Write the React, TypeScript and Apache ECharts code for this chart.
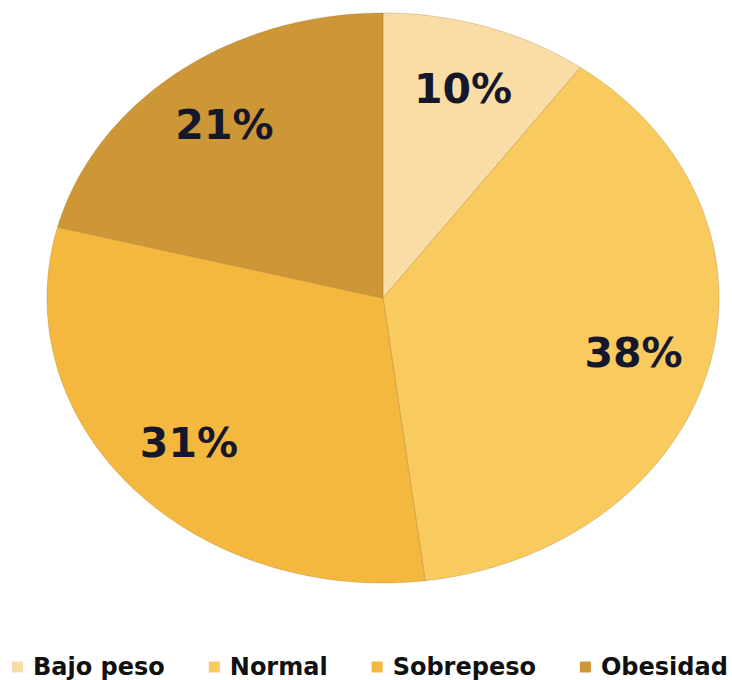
import React, { useEffect, useRef } from "react";
import * as echarts from "echarts";

const categories = ["Bajo peso", "Normal", "Sobrepeso", "Obesidad"];
const values = [10, 38, 31, 21];
const sliceColors = ["#FADDA6", "#F9CA5E", "#F5B83F", "#CD9636"];
const labelColor = "#15172B";

const CX = 383;
const CY = 298;
const RX = 336;
const RY = 285;
const LABEL_R = 0.77;

export default function App() {
  const ref = useRef<HTMLDivElement>(null);

  useEffect(() => {
    if (!ref.current) return;
    const chart = echarts.init(ref.current, undefined, { renderer: "svg" });
    const total = values.reduce((a, b) => a + b, 0);
    const starts: number[] = [];
    let acc = 0;
    values.forEach((v) => {
      starts.push(acc);
      acc += v;
    });

    const pt = (frac: number, r: number) => {
      const th = frac * Math.PI * 2;
      return [CX + RX * r * Math.sin(th), CY - RY * r * Math.cos(th)];
    };

    const series = categories.map((name, i) => ({
      type: "custom",
      name,
      coordinateSystem: "none",
      itemStyle: { color: sliceColors[i] },
      data: [[starts[i], values[i]]],
      renderItem: (params: any, api: any) => {
        const s = api.value(0) / total;
        const v = api.value(1);
        const e = s + v / total;
        const pts: number[][] = [[CX, CY]];
        const steps = Math.max(8, Math.ceil((e - s) * 360));
        for (let k = 0; k <= steps; k++) {
          pts.push(pt(s + ((e - s) * k) / steps, 1));
        }
        const mid = pt((s + e) / 2, LABEL_R);
        return {
          type: "group",
          children: [
            {
              type: "polygon",
              shape: { points: pts },
              style: {
                fill: sliceColors[i],
                stroke: "rgba(150,105,30,0.35)",
                lineWidth: 0.8,
              },
            },
            {
              type: "text",
              x: mid[0],
              y: mid[1],
              style: {
                text: Math.round(v) + "%",
                fill: labelColor,
                font: "bold 41px 'DejaVu Sans'",
                align: "center",
                verticalAlign: "middle",
              },
            },
          ],
        };
      },
    }));

    chart.setOption({
      animation: false,
      backgroundColor: "#ffffff",
      legend: {
        data: categories,
        left: 12,
        top: 655,
        padding: 0,
        itemGap: 44,
        itemWidth: 11,
        itemHeight: 11,
        icon: "rect",
        textStyle: {
          fontFamily: "DejaVu Sans",
          fontWeight: "bold",
          fontSize: 24,
          color: "#111111",
          padding: [0, 0, 0, 5],
        },
      },
      series,
    });
    return () => chart.dispose();
  }, []);

  return (
    <div
      ref={ref}
      style={{ position: "fixed", left: 0, top: 0, width: 732, height: 680 }}
    />
  );
}
